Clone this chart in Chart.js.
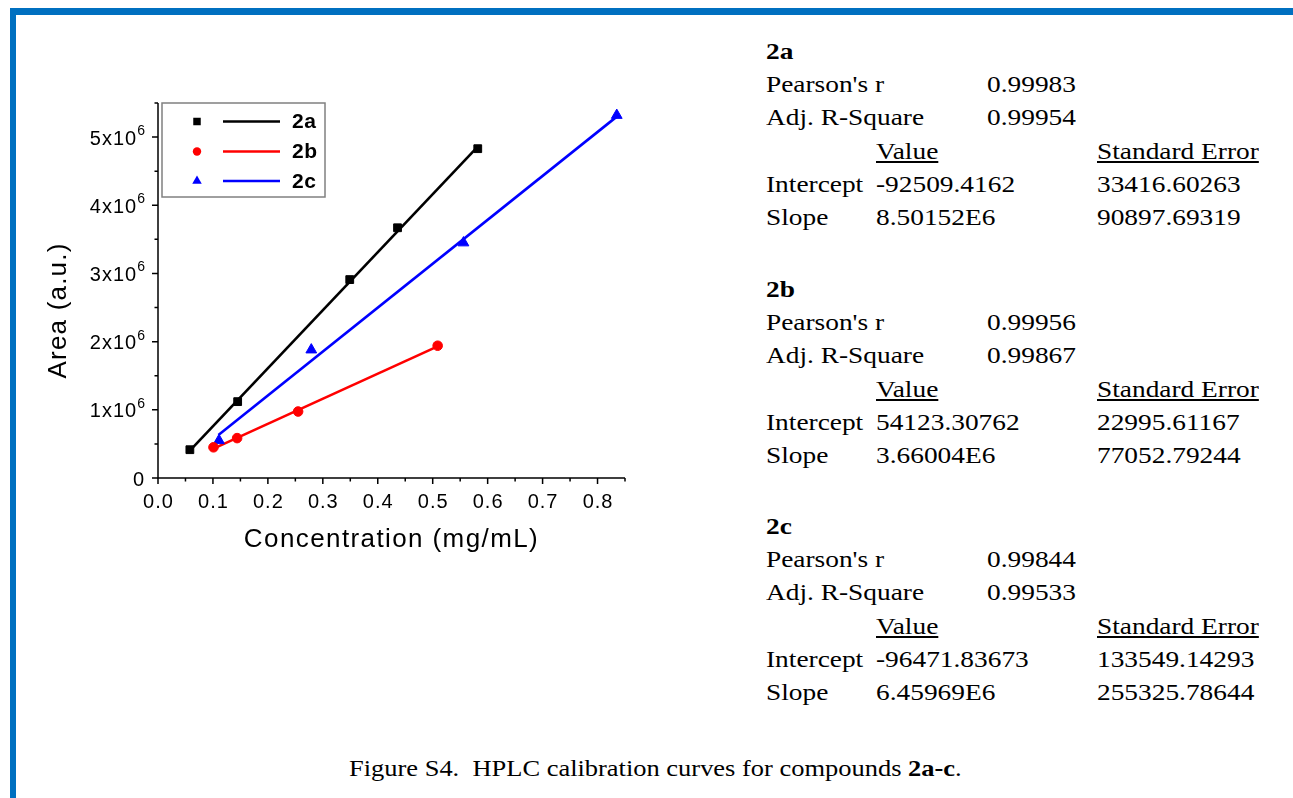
<!DOCTYPE html>
<html><head><meta charset="utf-8">
<script src="https://cdn.jsdelivr.net/npm/chart.js@4.4.1/dist/chart.umd.min.js"></script>
<style>
html,body{margin:0;padding:0;background:#fff;width:1293px;height:798px;overflow:hidden;position:relative;}
#wrap{position:absolute;left:0;top:0;width:700px;height:600px;}
.bt{position:absolute;background:#0070C0;}
.t{position:absolute;font-family:"Liberation Serif","Times New Roman",serif;font-size:24px;line-height:24px;white-space:pre;color:#000;transform:scaleX(1.14);transform-origin:0 0;}
.u{text-decoration:underline;text-underline-offset:2px;}
.b{font-weight:bold;}
#cap{position:absolute;left:349px;top:757px;font-family:"Liberation Serif","Times New Roman",serif;font-size:23px;line-height:23px;white-space:pre;color:#000;transform:scaleX(1.15);transform-origin:0 0;}
</style></head><body>
<div class="bt" style="left:10px;top:8px;width:1283px;height:7px;"></div>
<div class="bt" style="left:10px;top:8px;width:6px;height:790px;"></div>
<div id="wrap"><canvas id="c"></canvas></div>
<div id="stats"></div>
<div id="cap">Figure S4.  HPLC calibration curves for compounds <b>2a-c</b>.</div>
<script>
// ---- data ----
const seriesNames = ['2a', '2b', '2c'];
const seriesColors = ['#000000', '#FF0000', '#0000FF'];
const seriesMarkers = ['rect', 'circle', 'triangle'];

const conc2a = [0.058, 0.145, 0.349, 0.436, 0.582];
const area2a = [415000, 1120000, 2910000, 3670000, 4830000];
const conc2b = [0.101, 0.144, 0.255, 0.509];
const area2b = [450000, 585000, 975000, 1940000];
const conc2c = [0.111, 0.279, 0.556, 0.835];
const area2c = [550000, 1880000, 3450000, 5320000];

// fitted line end points
const fitConc2a = [0.058, 0.582];
const fitArea2a = [400000, 4860000];
const fitConc2b = [0.101, 0.509];
const fitArea2b = [430000, 1930000];
const fitConc2c = [0.110, 0.835];
const fitArea2c = [630000, 5300000];

const xMajorTicks = [0, 0.1, 0.2, 0.3, 0.4, 0.5, 0.6, 0.7, 0.8];
const xTickLabels = ['0.0', '0.1', '0.2', '0.3', '0.4', '0.5', '0.6', '0.7', '0.8'];
const xMinorTicks = [0.05, 0.15, 0.25, 0.35, 0.45, 0.55, 0.65, 0.75, 0.85];
const yMajorTicks = [0, 1e6, 2e6, 3e6, 4e6, 5e6];
const yTickLabels = ['0', '1x10', '2x10', '3x10', '4x10', '5x10'];
const yTickExps = ['', '6', '6', '6', '6', '6'];
const yMinorTicks = [0.5e6, 1.5e6, 2.5e6, 3.5e6, 4.5e6, 5.5e6];
const xTitle = 'Concentration (mg/mL)';
const yTitle = 'Area (a.u.)';

const statLabels = ['Pearson\'s r', 'Adj. R-Square', 'Intercept', 'Slope'];
const pearsonR = ['0.99983', '0.99956', '0.99844'];
const adjR2 = ['0.99954', '0.99867', '0.99533'];
const interceptVal = ['-92509.4162', '54123.30762', '-96471.83673'];
const interceptErr = ['33416.60263', '22995.61167', '133549.14293'];
const slopeVal = ['8.50152E6', '3.66004E6', '6.45969E6'];
const slopeErr = ['90897.69319', '77052.79244', '255325.78644'];

// ---- stats text ----
(function(){
  const st = document.getElementById('stats');
  function add(txt, x, base, cls){
    const d = document.createElement('div');
    d.className = 't' + (cls ? ' ' + cls : '');
    d.textContent = txt;
    d.style.left = x + 'px';
    d.style.top = (base - 20) + 'px';
    st.appendChild(d);
  }
  const sec = [59, 297, 534];
  const dy = 33.2;
  for (let i = 0; i < 3; i++) {
    const b = sec[i];
    add(seriesNames[i], 766, b, 'b');
    add(statLabels[0], 766, b + dy * 1);
    add(pearsonR[i], 987, b + dy * 1);
    add(statLabels[1], 766, b + dy * 2);
    add(adjR2[i], 987, b + dy * 2);
    add('Value', 876, b + dy * 3, 'u');
    add('Standard Error', 1097, b + dy * 3, 'u');
    add(statLabels[2], 766, b + dy * 4);
    add(interceptVal[i], 876, b + dy * 4);
    add(interceptErr[i], 1097, b + dy * 4);
    add(statLabels[3], 766, b + dy * 5);
    add(slopeVal[i], 876, b + dy * 5);
    add(slopeErr[i], 1097, b + dy * 5);
  }
})();

// ---- chart ----
function pts(xs, ys){ return xs.map((v, i) => ({x: v, y: ys[i]})); }
const pointSets = [pts(conc2a, area2a), pts(conc2b, area2b), pts(conc2c, area2c)];
const fitSets = [pts(fitConc2a, fitArea2a), pts(fitConc2b, fitArea2b), pts(fitConc2c, fitArea2c)];
const markerRadius = [5.5, 4.8, 6.2];

const datasets = [];
for (let i = 0; i < 3; i++) {
  datasets.push({
    label: seriesNames[i], data: pointSets[i], showLine: false,
    pointStyle: seriesMarkers[i], pointRadius: markerRadius[i],
    backgroundColor: seriesColors[i], borderColor: seriesColors[i], pointBorderWidth: 1,
    order: 0
  });
}
for (let i = 0; i < 3; i++) {
  datasets.push({
    label: seriesNames[i] + ' fit', data: fitSets[i], showLine: true,
    pointRadius: 0, borderColor: seriesColors[i], borderWidth: 2.6, fill: false,
    order: 1
  });
}

const FONT = '"Liberation Sans", Arial, sans-serif';

function drawMarker(ctx, style, x, y, r, color){
  ctx.fillStyle = color;
  ctx.beginPath();
  if (style === 'rect') {
    const s = r * Math.SQRT1_2;
    ctx.rect(x - s, y - s, 2 * s, 2 * s);
  } else if (style === 'circle') {
    ctx.arc(x, y, r, 0, Math.PI * 2);
  } else {
    for (let k = 0; k < 3; k++) {
      const a = k * 2 * Math.PI / 3;
      const px = x + Math.sin(a) * r, py = y - Math.cos(a) * r;
      k === 0 ? ctx.moveTo(px, py) : ctx.lineTo(px, py);
    }
    ctx.closePath();
  }
  ctx.fill();
}

const axesPlugin = {
  id: 'originAxes',
  afterDraw(chart) {
    const ctx = chart.ctx;
    const xs = chart.scales.x, ys = chart.scales.y;
    const ca = chart.chartArea;
    ctx.save();
    ctx.strokeStyle = '#000';
    ctx.lineWidth = 1.5;
    // axis lines
    ctx.beginPath();
    ctx.moveTo(ca.left, ca.top); ctx.lineTo(ca.left, ca.bottom + 0.75);
    ctx.moveTo(ca.left - 0.75, ca.bottom); ctx.lineTo(ca.right, ca.bottom);
    ctx.stroke();
    // ticks
    ctx.beginPath();
    xMajorTicks.forEach(v => { const p = xs.getPixelForValue(v); ctx.moveTo(p, ca.bottom); ctx.lineTo(p, ca.bottom + 6); });
    xMinorTicks.forEach(v => { const p = xs.getPixelForValue(v); ctx.moveTo(p, ca.bottom); ctx.lineTo(p, ca.bottom + 3.5); });
    yMajorTicks.forEach(v => { const p = ys.getPixelForValue(v); ctx.moveTo(ca.left, p); ctx.lineTo(ca.left - 6, p); });
    yMinorTicks.forEach(v => { const p = ys.getPixelForValue(v); ctx.moveTo(ca.left, p); ctx.lineTo(ca.left - 3.5, p); });
    ctx.stroke();
    // x tick labels
    ctx.fillStyle = '#000';
    ctx.font = '20px ' + FONT;
    ctx.letterSpacing = '1px';
    ctx.textAlign = 'center';
    ctx.textBaseline = 'alphabetic';
    xMajorTicks.forEach((v, i) => {
      ctx.fillText(xTickLabels[i], xs.getPixelForValue(v) + 0.5, ca.bottom + 30);
    });
    // y tick labels with superscript
    ctx.textAlign = 'left';
    yMajorTicks.forEach((v, i) => {
      const p = ys.getPixelForValue(v);
      ctx.font = '14px ' + FONT;
      ctx.letterSpacing = '0px';
      const ew = yTickExps[i] ? ctx.measureText(yTickExps[i]).width : 0;
      ctx.font = '20px ' + FONT;
      ctx.letterSpacing = '1px';
      const mw = ctx.measureText(yTickLabels[i]).width;
      const right = ca.left - 13;
      const x0 = right - ew - mw;
      ctx.fillText(yTickLabels[i], x0, p + 7.5);
      if (yTickExps[i]) {
        ctx.font = '14px ' + FONT;
        ctx.letterSpacing = '0px';
        ctx.fillText(yTickExps[i], x0 + mw, p - 2);
      }
    });
    // axis titles
    ctx.font = '26px ' + FONT;
    ctx.letterSpacing = '1.4px';
    ctx.textAlign = 'center';
    ctx.fillText(xTitle, (ca.left + ca.right) / 2, ca.bottom + 69);
    ctx.save();
    ctx.translate(66, (ca.top + ca.bottom) / 2 + 20);
    ctx.rotate(-Math.PI / 2);
    ctx.letterSpacing = '1.2px';
    ctx.fillText(yTitle, 0, 0);
    ctx.restore();
    // legend
    ctx.letterSpacing = '0px';
    ctx.strokeStyle = '#808080';
    ctx.lineWidth = 1.5;
    ctx.strokeRect(162, 103, 163, 94);
    const rowsY = [121.5, 151.5, 181];
    const legR = [5.3, 4.2, 5.5];
    for (let i = 0; i < 3; i++) {
      const yy = rowsY[i];
      drawMarker(ctx, seriesMarkers[i], 197, yy, legR[i], seriesColors[i]);
      ctx.strokeStyle = seriesColors[i];
      ctx.lineWidth = 2.6;
      ctx.beginPath(); ctx.moveTo(223, yy); ctx.lineTo(280, yy); ctx.stroke();
      ctx.fillStyle = '#000';
      ctx.font = 'bold 21px ' + FONT;
      ctx.letterSpacing = '0.5px';
      ctx.textAlign = 'left';
      ctx.textBaseline = 'middle';
      ctx.fillText(seriesNames[i], 292, yy + 1);
    }
    ctx.restore();
  }
};

new Chart(document.getElementById('c'), {
  type: 'scatter',
  data: { datasets },
  options: {
    responsive: true, maintainAspectRatio: false, animation: false,
    layout: { padding: { left: 158, top: 103, right: 75, bottom: 122 } },
    plugins: { legend: { display: false }, tooltip: { enabled: false } },
    scales: {
      x: { type: 'linear', min: 0, max: 0.85,
           grid: { display: false }, border: { display: false },
           ticks: { display: false }, afterFit: s => { s.height = 0; } },
      y: { type: 'linear', min: 0, max: 5500000,
           grid: { display: false }, border: { display: false },
           ticks: { display: false }, afterFit: s => { s.width = 0; } }
    }
  },
  plugins: [axesPlugin]
});
</script>
</body></html>
